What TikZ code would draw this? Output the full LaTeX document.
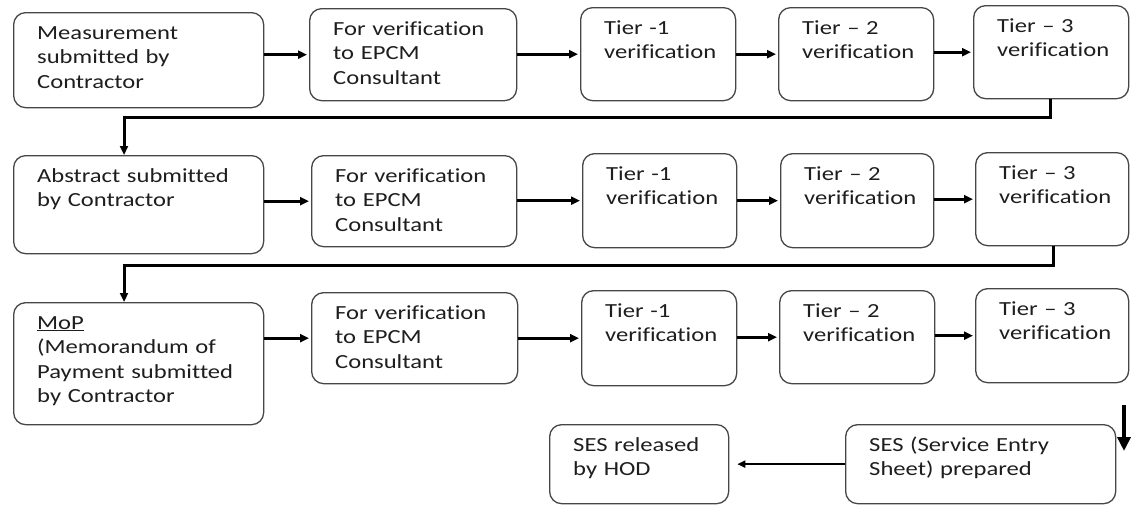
\documentclass[tikz,border=0pt]{standalone}
\usepackage{fontspec}
\setmainfont{Carlito}[FakeStretch=1.23,Ligatures=NoCommon]
\usetikzlibrary{arrows.meta,calc}
\definecolor{txtc}{RGB}{30,30,30}
\definecolor{brd}{RGB}{70,70,70}
\tikzset{
  boxst/.style={draw=brd, line width=1.3pt, rounded corners=12pt, fill=white, inner sep=0pt, rectangle},
  txt/.style={inner sep=0pt, text width=240pt, align=left, text=txtc, font=\fontsize{20}{24.5}\selectfont},
  arr/.style={line width=3pt, -{Triangle[length=9pt,width=8pt]}, shorten >=2pt},
  thinarr/.style={line width=2.2pt, -{Triangle[length=8pt,width=7pt]}},
  bigarr/.style={line width=4.5pt, -{Triangle[length=14pt,width=13pt]}}
}
\newcommand\bx[6]{%
  \node[boxst, minimum width={(#4-#2)*1pt}, minimum height={(#5-#3)*1pt}, anchor=north west] (#1) at (#2,#3) {};
  \node[txt, anchor=base west] (#1t) at ([xshift=24pt,yshift=-27pt]#1.north west) {#6};}
\begin{document}
\begin{tikzpicture}[x=1pt,y=-1pt]
\useasboundingbox[fill=white] (0,0) rectangle (1131,506);
% row 1
\bx{a1}{13}{12}{263}{107}{Measurement\\submitted by\\Contractor}
\bx{b1}{309}{8}{516}{100}{For verification\\to EPCM\\Consultant}
\bx{c1}{580}{7}{735}{100}{Tier -1\\verification}
\bx{d1}{778}{7}{933}{100}{Tier – 2\\verification}
\bx{e1}{973}{5}{1128}{98}{Tier – 3\\verification}
% row 2
\bx{a2}{13}{155}{263}{253}{Abstract submitted\\by Contractor}
\bx{b2}{311}{155}{516}{246}{For verification\\to EPCM\\Consultant}
\bx{c2}{582}{153}{736}{247}{Tier -1\\verification}
\bx{d2}{780}{153}{933}{247}{Tier – 2\\verification}
\bx{e2}{975}{152}{1128}{245}{Tier – 3\\verification}
% row 3
\bx{a3}{13}{302}{263}{424}{\underline{MoP}\\(Memorandum of\\Payment submitted\\by Contractor}
\bx{b3}{311}{292}{517}{383}{For verification\\to EPCM\\Consultant}
\bx{c3}{581}{290}{736}{385}{Tier -1\\verification}
\bx{d3}{779}{290}{934}{383}{Tier – 2\\verification}
\bx{e3}{975}{288}{1128}{382}{Tier – 3\\verification}
% row 4
\bx{f}{549}{424}{728}{503}{SES released\\by HOD}
\bx{g}{845}{424}{1115}{503}{SES (Service Entry\\Sheet) prepared}
% horizontal arrows
\foreach \s/\t in {a1/b1,b1/c1,c1/d1,d1/e1,a2/b2,b2/c2,c2/d2,d2/e2,a3/b3,b3/c3,c3/d3,d3/e3}
  \draw[arr] (\s.east |- \t.west) -- (\t.west);
% row connectors
\coordinate (r1) at (124,117);
\coordinate (r2) at (124,265);
\draw[arr, shorten >=0pt] ([xshift=77pt]e1.south west) |- (r1) -- (r1 |- a2.north);
\draw[arr, shorten >=0pt] ([xshift=78pt]e2.south west) |- (r2) -- (r2 |- a3.north);
% bottom
\draw[thinarr, shorten >=8pt] (g.west) -- (f.east);
\coordinate (fa1) at (1124,405);
\coordinate (fa2) at (1124,451);
\draw[bigarr] (fa1) -- (fa2);
\end{tikzpicture}
\end{document}
